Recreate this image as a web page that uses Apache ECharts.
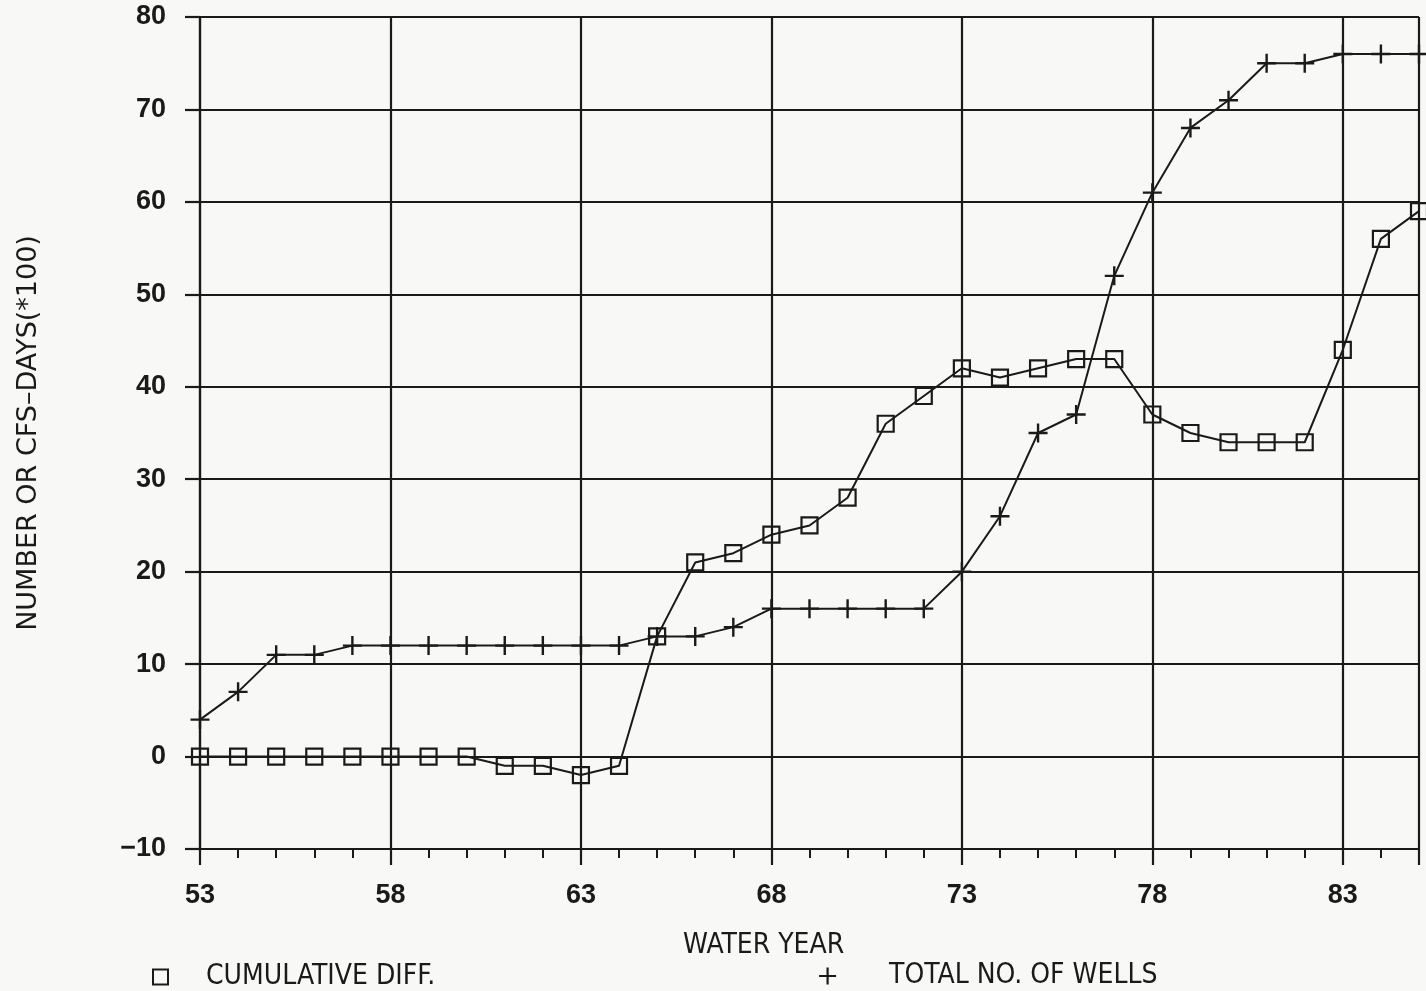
<!DOCTYPE html>
<html>
<head>
<meta charset="utf-8">
<title>Cumulative difference and total number of wells by water year</title>
<script src="https://cdn.jsdelivr.net/npm/echarts@6/dist/echarts.min.js"></script>
<style>
  html, body { margin: 0; padding: 0; background: #f8f8f6; }
  #chart { width: 1426px; height: 991px; }
</style>
</head>
<body>
<div id="chart"></div>
<script>
// Water years 1953-1985
const years = [53, 54, 55, 56, 57, 58, 59, 60, 61, 62, 63, 64, 65, 66, 67, 68, 69,
               70, 71, 72, 73, 74, 75, 76, 77, 78, 79, 80, 81, 82, 83, 84, 85];

// Cumulative difference, CFS-days (*100)
const cumulativeDiff = [0, 0, 0, 0, 0, 0, 0, 0, -1, -1, -2, -1, 13, 21, 22, 24, 25,
                        28, 36, 39, 42, 41, 42, 43, 43, 37, 35, 34, 34, 34, 44, 56, 59];

// Total number of wells
const totalWells = [4, 7, 11, 11, 12, 12, 12, 12, 12, 12, 12, 12, 13, 13, 14, 16, 16,
                    16, 16, 16, 20, 26, 35, 37, 52, 61, 68, 71, 75, 75, 76, 76, 76];

const xTickLabels = ['53', '58', '63', '68', '73', '78', '83'];
const yTickLabels = ['-10', '0', '10', '20', '30', '40', '50', '60', '70', '80'];

const seriesNames = ['CUMULATIVE DIFF.', 'TOTAL NO. OF WELLS'];

const INK = '#1a1a1a';
const PLUS = 'path://M0,10 L20,10 M10,0 L10,20';
const narrow = '"Liberation Sans Narrow", "DejaVu Sans Condensed", "Liberation Sans", sans-serif';
const tickFont = {
  color: INK,
  fontFamily: '"Liberation Sans", Arial, sans-serif',
  fontWeight: 'bold',
  fontSize: 27
};

const chart = echarts.init(document.getElementById('chart'), null, { renderer: 'canvas' });

chart.setOption({
  animation: false,
  backgroundColor: '#f8f8f6',
  grid: {
    left: 200, right: 7, top: 17, bottom: 142,
    containLabel: false,
    outerBoundsMode: 'none'
  },
  xAxis: {
    type: 'value',
    min: years[0],
    max: years[years.length - 1],
    interval: 5,
    axisLine: { show: true, onZero: false, lineStyle: { color: INK, width: 2.2 } },
    axisTick: { show: true, inside: false, length: 16, lineStyle: { color: INK, width: 2.2 } },
    minorTick: { show: true, splitNumber: 5, length: 9, lineStyle: { color: INK, width: 2 } },
    splitLine: { show: true, lineStyle: { color: INK, width: 2.2 } },
    axisLabel: Object.assign({
      showMaxLabel: false,
      margin: 33,
      formatter: v => (xTickLabels.includes(String(v)) ? String(v) : '')
    }, tickFont)
  },
  yAxis: {
    type: 'value',
    min: -10,
    max: 80,
    interval: 10,
    name: 'NUMBER OR CFS\u2013DAYS(*100)',
    nameLocation: 'middle',
    nameGap: 158,
    nameRotate: 90,
    nameTextStyle: {
      color: INK,
      fontFamily: '"DejaVu Sans", sans-serif',
      fontSize: 27
    },
    axisLine: { show: true, lineStyle: { color: INK, width: 2.2 } },
    axisTick: { show: true, inside: false, length: 15, lineStyle: { color: INK, width: 2.2 } },
    splitLine: { show: true, lineStyle: { color: INK, width: 2.2 } },
    axisLabel: Object.assign({
      margin: 34,
      formatter: v => (yTickLabels.includes(String(v)) ? String(v).replace('-', '\u2212') : '')
    }, tickFont)
  },
  legend: [
    {
      left: 147, top: 958,
      itemWidth: 15, itemHeight: 15,
      data: [{
        name: seriesNames[0], icon: 'rect',
        itemStyle: { color: 'transparent', borderColor: INK, borderWidth: 2 }
      }],
      textStyle: { color: INK, fontFamily: narrow, fontSize: 28, padding: [0, 0, 0, 33] },
      selectedMode: false
    },
    {
      left: 813, top: 957,
      itemWidth: 17, itemHeight: 17,
      data: [{
        name: seriesNames[1], icon: PLUS,
        itemStyle: { color: 'transparent', borderColor: INK, borderWidth: 2.2 }
      }],
      textStyle: { color: INK, fontFamily: narrow, fontSize: 28, padding: [0, 0, 0, 48] },
      selectedMode: false
    }
  ],
  graphic: [
    {
      type: 'text',
      left: 683, top: 932,
      style: { text: 'WATER YEAR', fill: INK, font: '28px ' + narrow }
    }
  ],
  series: [
    {
      name: seriesNames[0],
      type: 'line',
      data: years.map((y, i) => [y, cumulativeDiff[i]]),
      symbol: 'rect',
      symbolSize: 16,
      showAllSymbol: true,
      lineStyle: { color: INK, width: 2 },
      itemStyle: { color: 'transparent', borderColor: INK, borderWidth: 2.2 },
      emphasis: { disabled: true },
      z: 3
    },
    {
      name: seriesNames[1],
      type: 'line',
      data: years.map((y, i) => [y, totalWells[i]]),
      symbol: PLUS,
      symbolSize: 19,
      showAllSymbol: true,
      lineStyle: { color: INK, width: 2 },
      itemStyle: { color: 'transparent', borderColor: INK, borderWidth: 2.4 },
      emphasis: { disabled: true },
      z: 3
    }
  ]
});
</script>
</body>
</html>
